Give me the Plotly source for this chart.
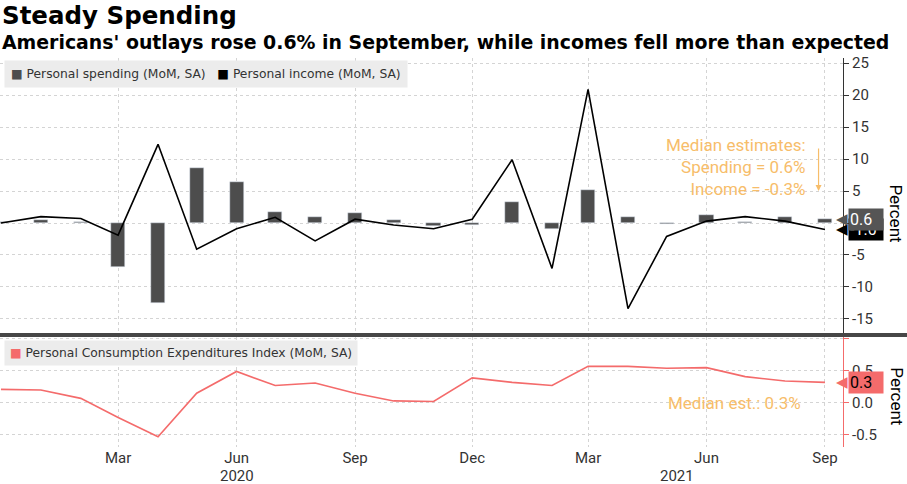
import plotly.graph_objects as go

# monthly data, Dec 2019 .. Sep 2021
months = ['2019-12-01', '2020-01-01', '2020-02-01', '2020-03-01', '2020-04-01', '2020-05-01',
          '2020-06-01', '2020-07-01', '2020-08-01', '2020-09-01', '2020-10-01', '2020-11-01',
          '2020-12-01', '2021-01-01', '2021-02-01', '2021-03-01', '2021-04-01', '2021-05-01',
          '2021-06-01', '2021-07-01', '2021-08-01', '2021-09-01']
spending = [0.1, 0.5, 0.2, -6.8, -12.5, 8.6, 6.4, 1.7, 1.0, 1.5, 0.5, -0.4,
            -0.3, 3.3, -1.0, 5.2, 1.0, -0.1, 1.2, 0.1, 1.0, 0.6]
income = [0.0, 1.0, 0.7, -1.9, 12.3, -4.1, -0.9, 0.9, -2.8, 0.6, -0.3, -0.9,
          0.6, 9.9, -7.1, 20.9, -13.4, -2.1, 0.3, 1.0, 0.3, -1.0]
pce = [0.21, 0.20, 0.07, -0.23, -0.53, 0.15, 0.49, 0.27, 0.31, 0.15, 0.03, 0.02,
       0.39, 0.32, 0.27, 0.57, 0.57, 0.54, 0.55, 0.41, 0.34, 0.32]

x_ticks = ['2020-03-01', '2020-06-01', '2020-09-01', '2020-12-01',
           '2021-03-01', '2021-06-01', '2021-09-01']
x_labels = ['Mar', 'Jun', 'Sep', 'Dec', 'Mar', 'Jun', 'Sep']
top_ticks = [-15, -10, -5, 0, 5, 10, 15, 20, 25]
top_labels = ['-15', '-10', '-5', '0', '5', '10', '15', '20', '25']
bot_ticks = [-0.5, 0.0, 0.5, 1.0]
bot_labels = ['-0.5', '0.0', '0.5', '']

BAR = '#4d4d4d'
RED = '#f46b6b'
ORANGE = '#f7bd6a'
TXT = '#333333'
GRID = '#d4d4d4'
TICKFONT = dict(family='Liberation Sans Narrow, Roboto, sans-serif', size=15, color=TXT)

fig = go.Figure()
fig.add_trace(go.Bar(x=months, y=spending, marker_color=BAR, width=11 * 86400000,
                     name='Personal spending (MoM, SA)', xaxis='x', yaxis='y'))
fig.add_trace(go.Scatter(x=months, y=income, mode='lines', line=dict(color='black', width=1.6),
                         name='Personal income (MoM, SA)', xaxis='x', yaxis='y'))
fig.add_trace(go.Scatter(x=months, y=pce, mode='lines', line=dict(color=RED, width=1.6),
                         name='Personal Consumption Expenditures Index (MoM, SA)',
                         xaxis='x2', yaxis='y2'))

xrange = ['2019-11-30 06:00', '2021-09-15']
fig.update_layout(
    width=907, height=484,
    margin=dict(l=0, r=64, t=58, b=37),
    plot_bgcolor='white', paper_bgcolor='white',
    showlegend=False,
    bargap=0,
    xaxis=dict(domain=[0, 1], range=xrange, type='date', anchor='y',
               tickvals=x_ticks, showticklabels=False, ticks='',
               showgrid=True, gridcolor=GRID, griddash='dot', gridwidth=1,
               zeroline=False, matches='x2'),
    yaxis=dict(domain=[0.293, 1], range=[-17.2, 25.8], side='right', anchor='x',
               tickvals=top_ticks, ticktext=top_labels, tickfont=TICKFONT,
               ticks='outside', ticklen=5, tickcolor=TXT,
               showline=True, linecolor=TXT, linewidth=1,
               showgrid=True, gridcolor=GRID, griddash='dot', zeroline=False),
    xaxis2=dict(domain=[0, 1], range=xrange, type='date', anchor='y2',
                tickvals=x_ticks, ticktext=x_labels, tickfont=TICKFONT, ticks='',
                showgrid=True, gridcolor=GRID, griddash='dot', zeroline=False),
    yaxis2=dict(domain=[0, 0.283], range=[-0.69, 1.03], side='right', anchor='x2',
                tickvals=bot_ticks, ticktext=bot_labels, tickfont=TICKFONT,
                ticks='outside', ticklen=5, tickcolor=RED,
                showline=True, linecolor=RED, linewidth=1,
                showgrid=True, gridcolor=GRID, griddash='dot', zeroline=False),
)

# thick separator between panels
fig.add_shape(type='line', xref='paper', yref='paper', x0=0, x1=1.08, y0=0.288, y1=0.288,
              line=dict(color='#474747', width=4))

ann = []
ann.append(dict(text='<b>Steady Spending</b>', xref='paper', yref='paper', x=0.0, y=1.108,
                xanchor='left', yanchor='middle', showarrow=False,
                font=dict(family='DejaVu Sans', size=24.5, color='black')))
ann.append(dict(text="<b>Americans' outlays rose 0.6% in September, while incomes fell more than expected</b>",
                xref='paper', yref='paper', x=0.0, y=1.041, xanchor='left', yanchor='middle',
                showarrow=False, font=dict(family='DejaVu Sans', size=18.9, color='black')))

# legends
ann.append(dict(text=f"<span style='color:{BAR}'>■</span> Personal spending (MoM, SA)   "
                     f"<span style='color:black'>■</span> Personal income (MoM, SA)",
                xref='paper', yref='paper', x=0.005, y=0.959, xanchor='left', yanchor='middle',
                showarrow=False, bgcolor='#ececec', borderpad=6, width=390, align='left',
                font=dict(family='DejaVu Sans', size=12.3, color=TXT)))
ann.append(dict(text=f"<span style='color:{RED}'>■</span> Personal Consumption Expenditures Index (MoM, SA)",
                xref='paper', yref='paper', x=0.005, y=0.2416, xanchor='left', yanchor='middle',
                showarrow=False, bgcolor='#ececec', borderpad=5, width=342, align='left',
                font=dict(family='DejaVu Sans', size=12.3, color=TXT)))

# axis titles
for yy in [0.6, 0.13]:
    ann.append(dict(text='Percent', xref='paper', yref='paper', x=1.063, y=yy,
                    xanchor='center', yanchor='middle', textangle=90, showarrow=False,
                    font=dict(family='Roboto', size=17, color='black')))

# last value labels
def last_label(val, yref, bg, fg, yshift=0):
    ann.append(dict(text='◀', xref='paper', yref=yref, x=1.008, y=val, xanchor='right',
                    yanchor='middle', showarrow=False, yshift=yshift,
                    font=dict(family='DejaVu Sans', size=15, color=bg)))
    ann.append(dict(text=f'{val:.1f}', xref='paper', yref=yref, x=1.006, y=val, xanchor='left',
                    yanchor='middle', showarrow=False, bgcolor=bg, borderpad=1, width=32,
                    yshift=yshift, align='left',
                    font=dict(family='Roboto', size=16, color=fg)))

last_label(income[-1], 'y', 'black', 'white')
last_label(spending[-1], 'y', '#555555', 'white')
last_label(pce[-1], 'y2', RED, 'black')

# median estimates
ann.append(dict(text='Median estimates:<br>Spending = 0.6%<br>Income = -0.3%',
                xref='paper', yref='y', x=0.958, y=8.75, xanchor='right', yanchor='middle',
                align='right', showarrow=False,
                font=dict(family='Roboto', size=17, color=ORANGE)))
ann.append(dict(text='', xref='paper', yref='y', x=0.971, y=5.0, ax=0, ay=-44,
                showarrow=True, arrowhead=2, arrowsize=1, arrowwidth=1.2, arrowcolor=ORANGE))
ann.append(dict(text='Median est.: 0.3%', xref='paper', yref='y2', x=0.952, y=0.0,
                xanchor='right', yanchor='middle', showarrow=False,
                font=dict(family='Roboto', size=17, color=ORANGE)))

# years
ann.append(dict(text='2020', xref='x2', yref='paper', x='2020-06-01', y=-0.074,
                xanchor='center', yanchor='middle', showarrow=False, font=TICKFONT))
ann.append(dict(text='2021', xref='x2', yref='paper', x='2021-05-09', y=-0.074,
                xanchor='center', yanchor='middle', showarrow=False, font=TICKFONT))

fig.update_layout(annotations=ann)
fig.write_html('out.html', config={'displayModeBar': False},
               post_script="document.body.style.margin='0px';")
